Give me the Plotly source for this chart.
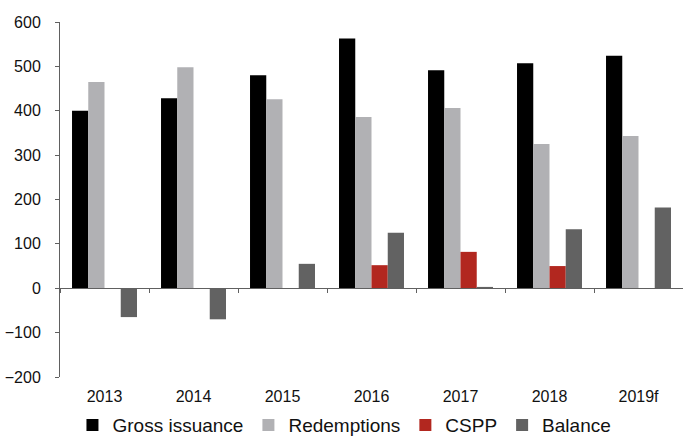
import plotly.graph_objects as go

# data
years = ["2013", "2014", "2015", "2016", "2017", "2018", "2019f"]
gross_issuance = [400, 428, 480, 563, 491, 507, 524]
redemptions = [465, 498, 426, 386, 406, 325, 343]
cspp = [None, None, None, 52, 82, 50, None]
balance = [-65, -70, 55, 125, 3, 133, 182]

series = [
    ("Gross issuance", gross_issuance, "#000000"),
    ("Redemptions", redemptions, "#b1b1b4"),
    ("CSPP", cspp, "#b2271f"),
    ("Balance", balance, "#626262"),
]

fig = go.Figure()
for name, vals, col in series:
    fig.add_trace(go.Bar(x=years, y=vals, name=name,
                         marker=dict(color=col, line=dict(width=0))))

fig.update_layout(
    width=683, height=437,
    margin=dict(l=60, r=0, t=22, b=60, autoexpand=False),
    paper_bgcolor="white", plot_bgcolor="white",
    barmode="group", bargap=0.27, bargroupgap=0,
    font=dict(family="Liberation Sans, Arial", size=16, color="#111111"),
    showlegend=True,
    legend=dict(orientation="h", x=0.02, xanchor="left", y=-0.082, yanchor="top",
                bgcolor="rgba(0,0,0,0)",
                font=dict(size=19, color="#111111"), traceorder="normal"),
    xaxis=dict(type="category", showline=True, linecolor="#606060", linewidth=1,
               ticks="outside", tickson="boundaries", ticklen=4, tickcolor="#606060",
               anchor="free", position=0.25, ticklabelstandoff=94,
               showgrid=False, zeroline=False, automargin=False),
    yaxis=dict(range=[-200, 600], dtick=100, showline=True, linecolor="#606060",
               linewidth=1, ticks="outside", ticklen=4, tickcolor="#606060",
               showgrid=False, zeroline=False, ticklabelstandoff=11, automargin=False),
)

# drop the default 8px page margin so the figure fills the window
fig.write_html("out.html", config={"displayModeBar": False},
               post_script="document.body.style.margin='0';")
